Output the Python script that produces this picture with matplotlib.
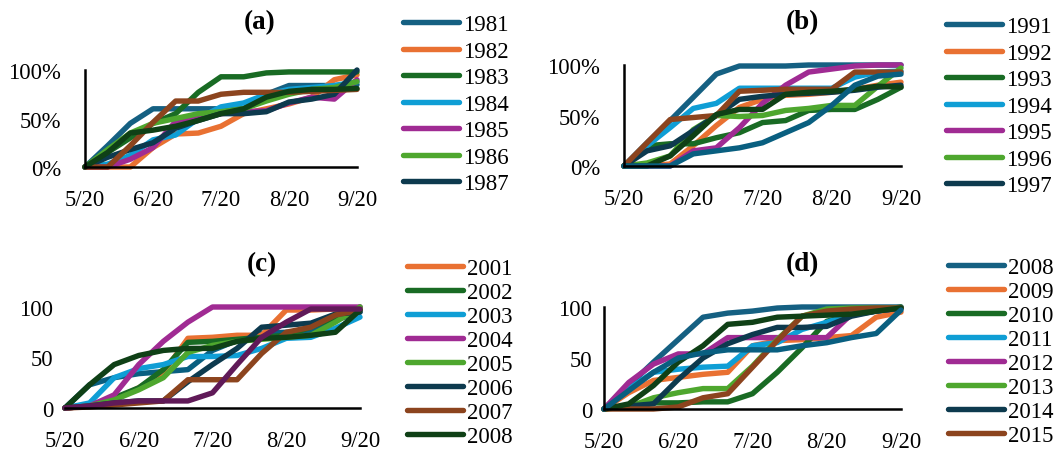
import matplotlib
matplotlib.use("Agg")
from matplotlib import pyplot as plt

plt.rcParams['font.family'] = ['Liberation Serif', 'DejaVu Serif']

# x axis: dekads from 5/20 to 9/20 (13 points), labelled every third
x = list(range(13))
tick_pos = [0, 3, 6, 9, 12]
tick_labels = ['5/20', '6/20', '7/20', '8/20', '9/20']

# office palette, in series order
colors = ['#156082', '#E97132', '#196B24', '#0F9ED5', '#A02B93', '#4EA72E',
          '#0D3A4E', '#8C441E', '#0F4016', '#095F80', '#601A58']

# ---- (a) 1981-1989 (last two not shown in legend)
years_a = ['1981', '1982', '1983', '1984', '1985', '1986', '1987', '_1988', '_1989']
y1981 = [0, 22, 45, 60, 60, 60, 60, 60, 75, 84, 84, 84, 85]
y1982 = [0, 0, 0, 20, 34, 35, 42, 55, 60, 65, 72, 90, 95]
y1983 = [0, 15, 30, 45, 55, 77, 93, 93, 97, 98, 98, 98, 98]
y1984 = [0, 3, 12, 28, 33, 50, 62, 66, 75, 80, 82, 84, 88]
y1985 = [0, 0, 8, 20, 47, 50, 55, 57, 58, 66, 72, 70, 90]
y1986 = [0, 18, 35, 45, 50, 55, 57, 60, 68, 75, 80, 82, 88]
y1987 = [0, 10, 18, 25, 40, 48, 55, 55, 57, 67, 70, 75, 100]
y1988 = [0, 0, 22, 46, 68, 68, 75, 77, 77, 77, 78, 79, 80]
y1989 = [0, 15, 35, 38, 42, 48, 55, 60, 72, 78, 80, 80, 81]
data_a = [y1981, y1982, y1983, y1984, y1985, y1986, y1987, y1988, y1989]

# ---- (b) 1991-2000
years_b = ['1991', '1992', '1993', '1994', '1995', '1996', '1997', '_1998', '_1999', '_2000']
y1991 = [0, 23, 45, 68, 91, 99, 99, 99, 100, 100, 100, 100, 100]
y1992 = [0, 0, 2, 20, 40, 58, 66, 70, 71, 73, 76, 80, 83]
y1993 = [0, 20, 22, 22, 28, 33, 43, 45, 55, 56, 56, 66, 78]
y1994 = [0, 20, 38, 57, 62, 77, 77, 77, 77, 77, 88, 93, 94]
y1995 = [0, 0, 0, 15, 18, 38, 62, 80, 93, 96, 99, 100, 100]
y1996 = [0, 3, 10, 36, 50, 49, 50, 55, 57, 60, 60, 79, 97]
y1997 = [0, 15, 20, 35, 50, 66, 69, 71, 72, 73, 75, 78, 80]
y1998 = [0, 23, 46, 48, 50, 74, 75, 76, 76, 76, 93, 93, 93]
y1999 = [0, 0, 10, 30, 51, 56, 56, 71, 73, 74, 76, 79, 78]
y2000b = [0, 0, 0, 12, 15, 18, 23, 33, 43, 60, 80, 89, 91]
data_b = [y1991, y1992, y1993, y1994, y1995, y1996, y1997, y1998, y1999, y2000b]

# ---- (c) 2000-2009
years_c = ['_2000', '2001', '2002', '2003', '2004', '2005', '2006', '2007', '2008', '_2009']
c2000 = [0, 23, 30, 34, 36, 38, 57, 67, 74, 75, 75, 87, 95]
c2001 = [0, 2, 8, 20, 35, 69, 70, 72, 72, 97, 97, 98, 98]
c2002 = [0, 3, 10, 20, 38, 65, 66, 68, 70, 72, 80, 90, 100]
c2003 = [0, 5, 30, 39, 43, 51, 51, 52, 59, 69, 70, 79, 90]
c2004 = [0, 2, 13, 43, 66, 85, 100, 100, 100, 100, 100, 100, 100]
c2005 = [0, 2, 8, 18, 30, 55, 62, 66, 68, 70, 72, 85, 100]
c2006 = [0, 2, 5, 7, 7, 26, 43, 59, 80, 82, 84, 93, 95]
c2007 = [0, 1, 3, 5, 7, 28, 28, 28, 54, 75, 80, 92, 97]
c2008 = [0, 23, 43, 52, 57, 59, 59, 66, 69, 70, 72, 75, 97]
c2009 = [0, 2, 5, 7, 7, 7, 15, 43, 70, 85, 98, 98, 98]
data_c = [c2000, c2001, c2002, c2003, c2004, c2005, c2006, c2007, c2008, c2009]
colors_c = ['#095F80'] + colors[1:9] + ['#601A58']

# ---- (d) 2008-2017
years_d = ['2008', '2009', '2010', '2011', '2012', '2013', '2014', '2015', '_2016', '_2017']
d2008 = [0, 23, 46, 68, 90, 94, 96, 99, 100, 100, 100, 100, 100]
d2009 = [0, 16, 28, 31, 34, 36, 62, 67, 68, 70, 72, 90, 95]
d2010 = [0, 3, 6, 6, 7, 7, 15, 36, 60, 86, 92, 96, 100]
d2011 = [0, 20, 36, 39, 41, 42, 62, 65, 78, 85, 93, 96, 99]
d2012 = [0, 26, 44, 54, 54, 70, 70, 70, 70, 70, 93, 96, 99]
d2013 = [0, 2, 11, 16, 20, 20, 42, 68, 91, 98, 99, 99, 99]
d2014 = [0, 3, 5, 29, 50, 64, 73, 80, 80, 81, 91, 96, 99]
d2015 = [0, 0, 0, 2, 11, 15, 41, 67, 91, 96, 98, 99, 99]
d2016 = [0, 5, 23, 46, 62, 83, 85, 90, 91, 92, 93, 96, 99]
d2017 = [0, 18, 36, 50, 55, 58, 58, 58, 62, 65, 70, 74, 97]
data_d = [d2008, d2009, d2010, d2011, d2012, d2013, d2014, d2015, d2016, d2017]

W, H = 1059, 452
fig = plt.figure(figsize=(W / 100, H / 100), dpi=100)


def px_axes(x0, x1, y0, y1):
    # pixel box (y measured from top) -> figure fraction
    return fig.add_axes([x0 / W, 1 - y0 / H, (x1 - x0) / W, (y0 - y1) / H])


def panel(box, series, names, cols, pct, title, title_xy, leg_xy, leg_sp, left_spine, ypad):
    ax = px_axes(*box)
    lines = []
    for ys, nm, c in zip(series, names, cols):
        ln, = ax.plot(x, ys, color=c, lw=3.9, label=nm, clip_on=False,
                      solid_joinstyle='round', solid_capstyle='round')
        lines.append(ln)
    ax.set_xlim(0, 12)
    ax.set_ylim(0, 100)
    ax.set_xticks(tick_pos)
    ax.set_xticklabels(tick_labels)
    ax.set_yticks([0, 50, 100])
    if pct:
        ax.set_yticklabels(['0%', '50%', '100%'])
    else:
        ax.set_yticklabels(['0', '50', '100'])
    ax.tick_params(axis='both', length=0, labelsize=16.3)
    ax.tick_params(axis='x', pad=16)
    ax.tick_params(axis='y', pad=ypad)
    for s in ['top', 'right']:
        ax.spines[s].set_visible(False)
    ax.spines['left'].set_visible(left_spine)
    ax.spines['bottom'].set_linewidth(1.8)
    ax.spines['left'].set_linewidth(1.8)
    ax.set_facecolor('none')
    fig.text(title_xy[0] / W, 1 - title_xy[1] / H, title, ha='center', va='center',
             fontsize=19.5, fontweight='bold')
    shown = [l for l in lines if not l.get_label().startswith('_')]
    fig.legend(handles=shown, labels=[l.get_label() for l in shown],
               loc='upper left', bbox_to_anchor=(leg_xy[0] / W, 1 - leg_xy[1] / H),
               frameon=False, fontsize=16.5, handlelength=2.45, handletextpad=0.18,
               labelspacing=leg_sp, borderpad=0, borderaxespad=0)
    return ax


panel((85, 357, 168, 71), data_a, years_a, colors[:9], True, '(a)', (260, 23), (403, 15), 0.24, True, 17)
panel((624, 901, 167, 66), data_b, years_b, colors[:10], True, '(b)', (802, 23), (946, 17), 0.24, True, 17)
panel((65, 360, 409, 308), data_c, years_c, colors_c, False, '(c)', (262, 265), (407, 259), 0.13, False, 8.5)
panel((604, 901, 410, 308), data_d, years_d, colors[:10], False, '(d)', (802, 265), (948, 258), 0.13, True, 8.5)

fig.savefig('out.png', dpi=100)
